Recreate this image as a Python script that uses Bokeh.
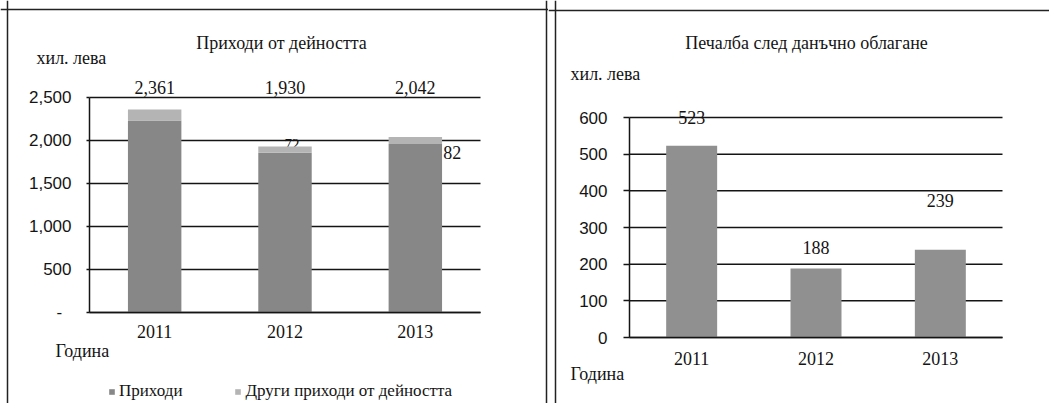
from bokeh.plotting import figure
from bokeh.models import (Range1d, FixedTicker, LabelSet, Label, Span,
                          ColumnDataSource, Legend, LegendItem)
from bokeh.layouts import row
from bokeh.embed import file_html
from bokeh.resources import INLINE
from bokeh.core.properties import value

# ---------------- data ----------------
years = ["2011", "2012", "2013"]
income_main = [2234, 1858, 1960]
income_other = [127, 72, 82]
income_total = [2361, 1930, 2042]
income_total_labels = ["2,361", "1,930", "2,042"]
profit = [523, 188, 239]
profit_labels = ["523", "188", "239"]
left_ticks = [0, 500, 1000, 1500, 2000, 2500]
left_tick_labels = ["-\u2007", "500", "1,000", "1,500", "2,000", "2,500"]
right_ticks = [0, 100, 200, 300, 400, 500, 600]
right_tick_labels = ["0", "100", "200", "300", "400", "500", "600"]
series_names = ["Приходи", "Други приходи от дейността"]
titles = ["Приходи от дейността", "Печалба след данъчно облагане"]
unit_label = "хил. лева"
x_label = "Година"

# ---------------- style ----------------
SERIF = "Liberation Serif"
SANS = "Liberation Sans"
INK = "#141414"
BAR_MAIN = "#878787"
BAR_OTHER = "#b4b4b4"
BAR_PROFIT = "#909090"
FS = "18px"
H = 403


class Frame:
    """Maps panel pixel positions (from top-left) to data coordinates."""

    def __init__(self, width, height, px0, px_per_x, py0, py_per_y):
        self.w, self.h = width, height
        self.px0, self.kx, self.py0, self.ky = px0, px_per_x, py0, py_per_y

    def x(self, px):
        return (px - self.px0) / self.kx

    def y(self, py):
        return (self.py0 - py) / self.ky

    def figure(self):
        return figure(x_range=Range1d(self.x(0), self.x(self.w)),
                      y_range=Range1d(self.y(self.h), self.y(0)),
                      width=self.w, height=self.h,
                      min_border=0, min_border_left=0, min_border_right=0,
                      min_border_top=0, min_border_bottom=0,
                      output_backend="svg", toolbar_location=None)


def build_axes(p, xpos, ymax, ticks, tick_labels, tick_out, y_standoff, x_standoff):
    p.outline_line_color = None
    p.background_fill_color = "white"
    p.border_fill_color = "white"
    p.grid.visible = False
    # grid lines from the tick values, spanning the category area only
    p.segment(x0=[0] * len(ticks), x1=[len(xpos)] * len(ticks), y0=ticks, y1=ticks,
              line_color=INK, line_width=1.5)
    p.yaxis.ticker = FixedTicker(ticks=ticks)
    p.yaxis.major_label_overrides = dict(zip(ticks, tick_labels))
    p.yaxis.fixed_location = 0
    p.yaxis.bounds = (0, ymax)
    p.xaxis.ticker = FixedTicker(ticks=xpos)
    p.xaxis.major_label_overrides = dict(zip(xpos, years))
    p.xaxis.fixed_location = 0
    p.xaxis.bounds = (0, len(xpos))
    for ax in (p.xaxis, p.yaxis):
        ax.axis_line_color = INK
        ax.axis_line_width = 1.5
        ax.minor_tick_line_color = None
        ax.major_tick_in = 0
        ax.major_label_text_color = INK
    p.yaxis.major_tick_out = tick_out
    p.yaxis.major_tick_line_color = INK
    p.yaxis.major_tick_line_width = 1.5
    p.yaxis.major_label_standoff = y_standoff
    p.yaxis.major_label_text_font = SANS
    p.yaxis.major_label_text_font_size = "17px"
    p.xaxis.major_tick_out = 0
    p.xaxis.major_tick_line_color = None
    p.xaxis.major_label_standoff = x_standoff
    p.xaxis.major_label_text_font = SERIF
    p.xaxis.major_label_text_font_size = FS


def add_text(p, F, px, py, text, align="left", size=FS):
    p.add_layout(Label(x=F.x(px), y=F.y(py), text=text, text_font=SERIF,
                       text_font_size=size, text_color=INK, text_align=align,
                       text_baseline="middle"))


def add_borders(p, F, left=None, top=None, right=None):
    for loc, dim, conv in ((left, "height", F.x), (right, "height", F.x), (top, "width", F.y)):
        if loc is not None:
            p.add_layout(Span(location=conv(loc), dimension=dim,
                              line_color="#222222", line_width=1.5))


xpos = [i + 0.5 for i in range(len(years))]

# ---------------- left chart ----------------
F1 = Frame(548, H, 89, 391 / 3, 312, 215 / 2500)
p1 = F1.figure()
build_axes(p1, xpos, left_ticks[-1], left_ticks, left_tick_labels, 3, 15, 12)

src1 = ColumnDataSource(dict(x=xpos, main=income_main, other=income_other,
                             total=income_total, total_lbl=income_total_labels,
                             top=[left_ticks[-1]] * len(years)))

# small label for 2012 partly hidden behind the bar (drawn first)
hidden = ColumnDataSource(dict(x=[xpos[1]], y=[income_total[1]], t=[str(income_other[1])]))
p1.text(x="x", y="y", text="t", source=hidden, x_offset=7, y_offset=-3,
        text_font=value(SERIF), text_font_size="15px", text_color=INK,
        text_align="center", text_baseline="middle")

rs = p1.vbar_stack(["main", "other"], x="x", width=0.41, source=src1,
                   color=[BAR_MAIN, BAR_OTHER], line_color=None)

p1.add_layout(LabelSet(x="x", y="top", text="total_lbl", source=src1, y_offset=10,
                       text_font=value(SERIF), text_font_size=FS, text_color=INK,
                       text_align="center", text_baseline="middle"))

src82 = ColumnDataSource(dict(x=[xpos[2]], y=[income_total[2]], t=[str(income_other[2])]))
p1.add_layout(LabelSet(x="x", y="y", text="t", source=src82, x_offset=28, y_offset=-16,
                       text_font=value(SERIF), text_font_size=FS, text_color=INK,
                       text_align="left", text_baseline="middle"))

add_text(p1, F1, 281, 42, titles[0], align="center")
add_text(p1, F1, 36, 57, unit_label)
add_text(p1, F1, 55, 350, x_label)
add_borders(p1, F1, left=7, top=9, right=546)

legend = Legend(items=[LegendItem(label=series_names[0], renderers=[rs[0]]),
                       LegendItem(label=series_names[1], renderers=[rs[1]])],
                location=(108, 2), orientation="horizontal",
                background_fill_alpha=0, border_line_color=None,
                padding=0, margin=0, spacing=52, glyph_width=7, glyph_height=7,
                label_standoff=4, label_text_font=SERIF, label_text_font_size="17px",
                label_text_color=INK)
p1.add_layout(legend)

# ---------------- right chart ----------------
F2 = Frame(501, H, 629 - 548, 373 / 3, 337, 220 / 600)
p2 = F2.figure()
build_axes(p2, xpos, right_ticks[-1], right_ticks, right_tick_labels, 6, 16, 14)

src2 = ColumnDataSource(dict(x=xpos, profit=profit, lbl=profit_labels,
                             off=[28, 21, 49]))
p2.vbar(x="x", top="profit", width=0.41, source=src2, color=BAR_PROFIT, line_color=None)
p2.add_layout(LabelSet(x="x", y="profit", text="lbl", source=src2, y_offset="off",
                       text_font=value(SERIF), text_font_size=FS, text_color=INK,
                       text_align="center", text_baseline="middle"))

add_text(p2, F2, 806 - 548, 42, titles[1], align="center")
add_text(p2, F2, 570 - 548, 73, unit_label)
add_text(p2, F2, 570 - 548, 373, x_label)
add_borders(p2, F2, left=555 - 548, top=10)

layout = row(p1, p2, spacing=0)
open("out.html", "w").write(file_html(layout, INLINE))
